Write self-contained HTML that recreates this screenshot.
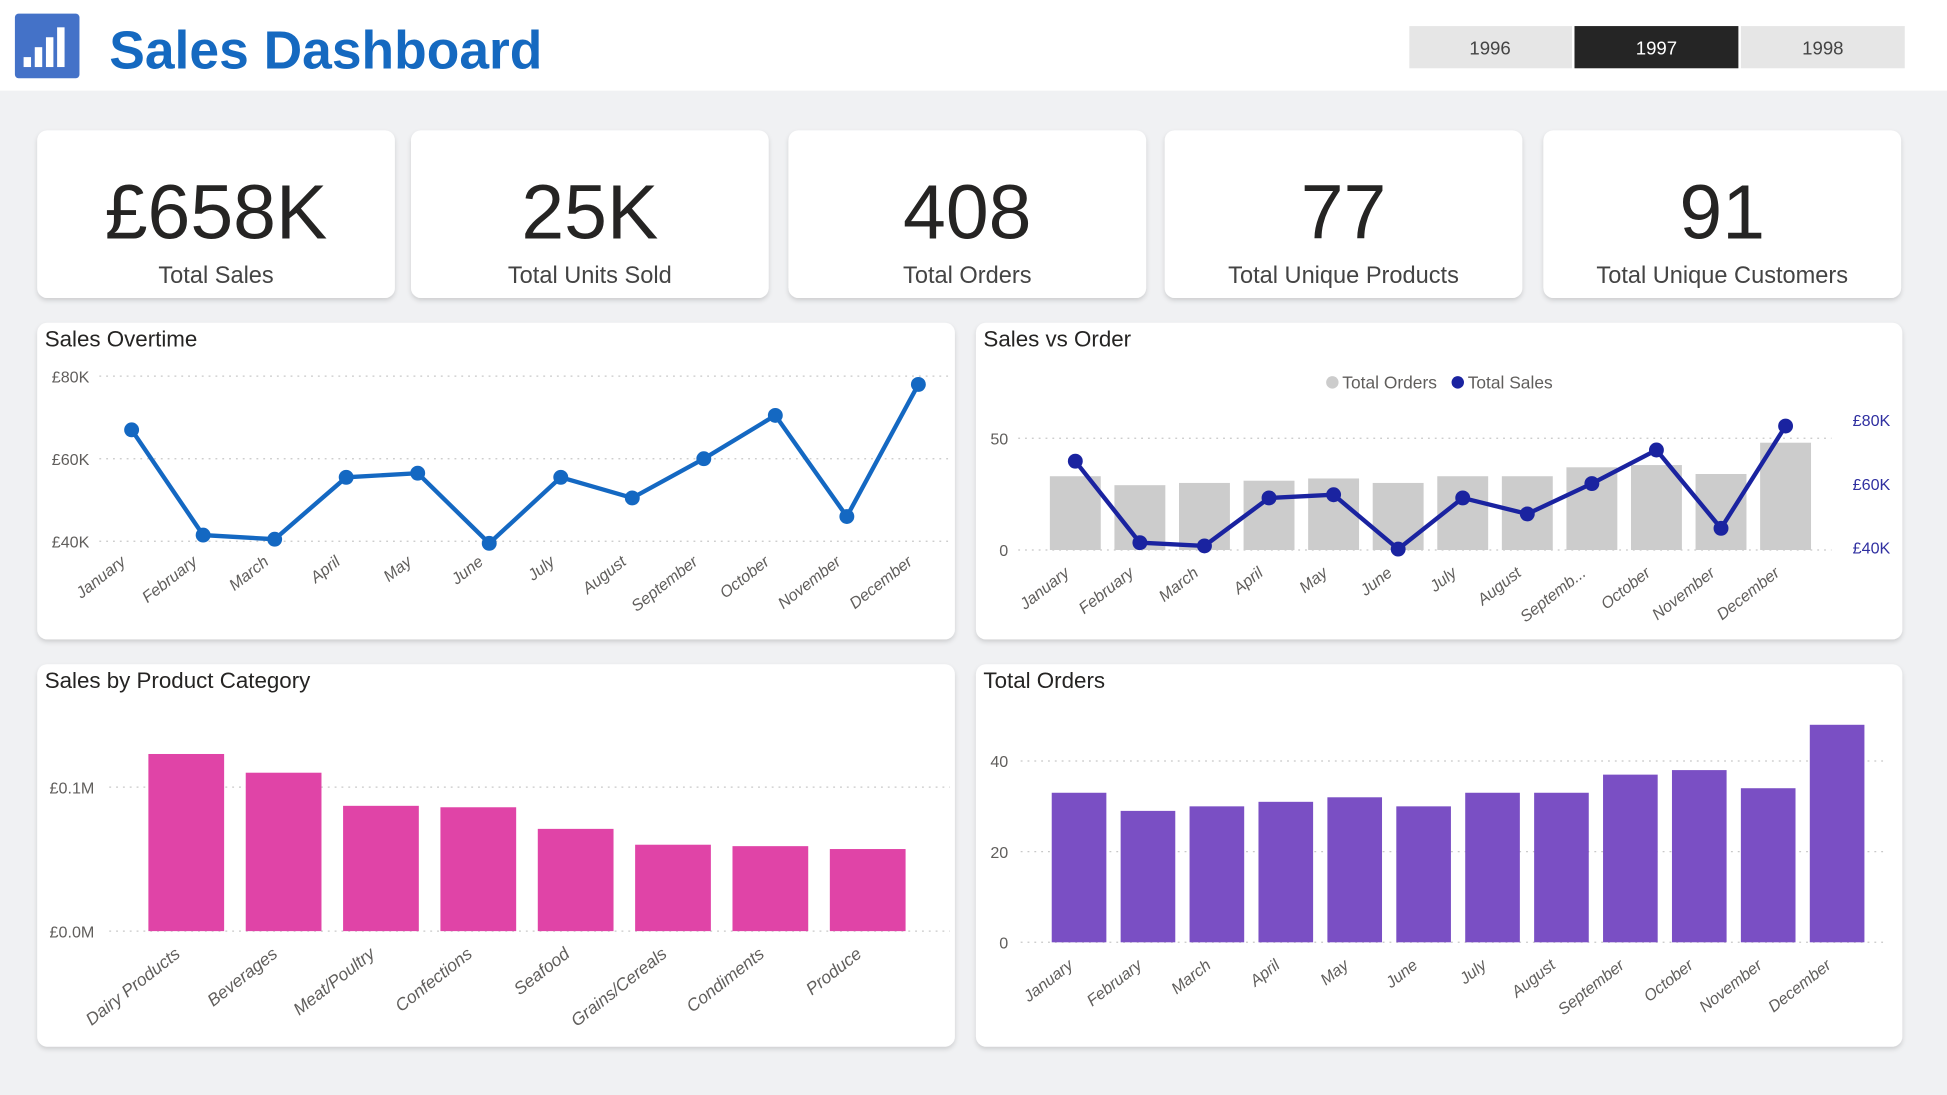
<!DOCTYPE html>
<html><head><meta charset="utf-8"><style>
html,body{margin:0;padding:0;background:#f0f1f3;}
svg{display:block;font-family:"Liberation Sans",sans-serif;}
</style></head><body>
<svg id="root" width="1947" height="1095" viewBox="0 0 1568 882" preserveAspectRatio="none" xmlns="http://www.w3.org/2000/svg">
<defs><filter id="sh" x="-5%" y="-5%" width="110%" height="115%"><feDropShadow dx="0" dy="2" stdDeviation="2" flood-color="#000" flood-opacity="0.15"/></filter></defs>
<rect x="0" y="0" width="1568" height="882" fill="#f0f1f3"/>
<g>
<rect x="0" y="0" width="1568" height="73" fill="#fff"/>
<g>
<rect x="12" y="11" width="52" height="52" rx="3" fill="#4472c8"/>
<rect x="19" y="46" width="6" height="8" fill="#fff"/><rect x="28" y="38" width="6" height="16" fill="#fff"/><rect x="37" y="30" width="6" height="24" fill="#fff"/><rect x="46" y="22" width="6" height="32" fill="#fff"/>
</g>
<text x="88" y="55" font-size="43" font-weight="bold" fill="#1569c0">Sales Dashboard</text>
<g><rect x="1135" y="21" width="131" height="34" fill="#e6e6e6"/><text x="1200" y="44" font-size="15" fill="#444" text-anchor="middle">1996</text></g>
<g><rect x="1268" y="21" width="132" height="34" fill="#252525"/><text x="1334" y="44" font-size="15" fill="#fff" text-anchor="middle">1997</text></g>
<g><rect x="1402" y="21" width="132" height="34" fill="#e6e6e6"/><text x="1468" y="44" font-size="15" fill="#444" text-anchor="middle">1998</text></g>
</g>
<g id="kpis"></g>
<g id="cards"></g>
<g id="charts"></g>
</svg>
<script>
// KPI data
const kpiValues = ["£658K","25K","408","77","91"];
const kpiLabels = ["Total Sales","Total Units Sold","Total Orders","Total Unique Products","Total Unique Customers"];
// Sales Overtime
const months = ["January","February","March","April","May","June","July","August","September","October","November","December"];
const salesK = [67,41.5,40.5,55.5,56.5,39.5,55.5,50.5,60,70.5,46,78];
const salesTicks = [40,60,80];
const salesTickLabels = ["£40K","£60K","£80K"];
// Sales vs Order
const svoMonths = ["January","February","March","April","May","June","July","August","Septemb...","October","November","December"];
const ordersCount = [33,29,30,31,32,30,33,33,37,38,34,48];
const ordersTicksLeft = [0,50];
const salesTicksRight = [40,60,80];
const salesTicksRightLabels = ["£40K","£60K","£80K"];
// Product categories
const categories = ["Dairy Products","Beverages","Meat/Poultry","Confections","Seafood","Grains/Cereals","Condiments","Produce"];
const categorySalesM = [0.123,0.110,0.087,0.086,0.071,0.060,0.059,0.057];
const catTicks = [0,0.1];
const catTickLabels = ["£0.0M","£0.1M"];
// Total orders
const orderTicks = [0,20,40];

const NS="http://www.w3.org/2000/svg";
function el(tag,attrs,parent,text){const e=document.createElementNS(NS,tag);for(const k in attrs)e.setAttribute(k,attrs[k]);if(text!==undefined)e.textContent=text;parent.appendChild(e);return e;}
const kg=document.getElementById('kpis');
const kx=[30,331,635,938,1243];
kpiValues.forEach((v,i)=>{
  const g=el('g',{},kg);
  
  
  el('rect',{x:kx[i],y:105,width:288,height:135,rx:8,fill:'#fff',filter:'url(#sh)'},g);
  const t=el('text',{x:kx[i]+144,y:192,'font-size':62,'text-anchor':'middle',fill:'#252423'},g,v);
  
  
  const l=el('text',{x:kx[i]+144,y:228,'font-size':19,'text-anchor':'middle',fill:'#444'},g,kpiLabels[i]);
  
  
});
const cg=document.getElementById('cards');
const cards=[[30,260,739,255,'Sales Overtime','sales-overtime-card'],[786,260,746,255,'Sales vs Order','sales-vs-order-card'],[30,535,739,308,'Sales by Product Category','sales-by-category-card'],[786,535,746,308,'Total Orders','total-orders-card']];
cards.forEach(c=>{
  const g=el('g',{},cg);
  
  
  el('rect',{x:c[0],y:c[1],width:c[2],height:c[3],rx:8,fill:'#fff',filter:'url(#sh)'},g);
  const t=el('text',{x:c[0]+6,y:c[1]+19,'font-size':18,fill:'#252423'},g,c[4]);
  
  
});
const ch=document.getElementById('charts');
function grid(g,x1,x2,y){el('line',{x1:x1,x2:x2,y1:y,y2:y,stroke:'#c8c8c8','stroke-dasharray':'1.5 4','stroke-width':1},g);}
function rotLabel(g,x,y,txt,size){const t=el('text',{x:x,y:y,'font-size':size||13,fill:'#605e5c','text-anchor':'end','font-style':'italic',transform:`rotate(-38 ${x} ${y})`},g,txt);}

// Chart 1: Sales Overtime
(function(){
  const g=el('g',{},ch);
  
  
  const xS=i=>106+i*57.6, yS=v=>436-(v-40)*(133/40);
  salesTicks.forEach((t,i)=>{grid(g,80,765,yS(t));const l=el('text',{x:72,y:yS(t)+5,'font-size':13,fill:'#605e5c','text-anchor':'end'},g,salesTickLabels[i]);});
  const pts=salesK.map((v,i)=>xS(i)+','+yS(v)).join(' ');
  const pl=el('polyline',{points:pts,fill:'none',stroke:'#1468c2','stroke-width':3.5},g);
  
  
  salesK.forEach((v,i)=>{const c=el('circle',{cx:xS(i),cy:yS(v),r:6,fill:'#1468c2'},g);});
  months.forEach((m,i)=>rotLabel(g,xS(i)-4,yS(40)+18,m));
})();

// Chart 2: Sales vs Order
(function(){
  const g=el('g',{},ch);
  
  
  const xS=i=>866+i*52, yL=v=>443-v*1.8, yR=v=>441-(v-40)*(103/40);
  ordersTicksLeft.forEach(t=>{grid(g,820,1475,yL(t));const l=el('text',{x:812,y:yL(t)+5,'font-size':13,fill:'#605e5c','text-anchor':'end'},g,String(t));});
  salesTicksRight.forEach((t,i)=>{const l=el('text',{x:1492,y:yR(t)+5,'font-size':13,fill:'#2f2fa0'},g,salesTicksRightLabels[i]);});
  ordersCount.forEach((v,i)=>{const r=el('rect',{x:xS(i)-20.5,y:yL(v),width:41,height:yL(0)-yL(v),fill:'#cccccc'},g);});
  const pts=salesK.map((v,i)=>xS(i)+','+yR(v)).join(' ');
  const pl=el('polyline',{points:pts,fill:'none',stroke:'#1a23a0','stroke-width':3.5},g);
  
  
  salesK.forEach((v,i)=>{const c=el('circle',{cx:xS(i),cy:yR(v),r:6,fill:'#1a23a0'},g);});
  svoMonths.forEach((m,i)=>rotLabel(g,xS(i)-4,yL(0)+20,m));
  const lg=el('g',{},g);
  
  
  el('circle',{cx:1073,cy:308,r:5,fill:'#cccccc'},lg);
  el('text',{x:1081,y:313,'font-size':14,fill:'#605e5c'},lg,'Total Orders');
  el('circle',{cx:1174,cy:308,r:5,fill:'#1a23a0'},lg);
  el('text',{x:1182,y:313,'font-size':14,fill:'#605e5c'},lg,'Total Sales');
})();

// Chart 3: Sales by Product Category
(function(){
  const g=el('g',{},ch);
  
  
  const xS=i=>150+i*78.4, yS=v=>750-v*1160;
  catTicks.forEach((t,i)=>{grid(g,88,765,yS(t));const l=el('text',{x:76,y:yS(t)+5,'font-size':13,fill:'#605e5c','text-anchor':'end'},g,catTickLabels[i]);});
  categorySalesM.forEach((v,i)=>{const r=el('rect',{x:xS(i)-30.5,y:yS(v),width:61,height:yS(0)-yS(v),fill:'#e044a7'},g);});
  categories.forEach((c,i)=>rotLabel(g,xS(i)-4,yS(0)+20,c,14));
})();

// Chart 4: Total Orders
(function(){
  const g=el('g',{},ch);
  
  
  const xS=i=>869+i*55.5, yS=v=>759-v*3.65;
  orderTicks.forEach(t=>{grid(g,822,1520,yS(t));const l=el('text',{x:812,y:yS(t)+5,'font-size':13,fill:'#605e5c','text-anchor':'end'},g,String(t));});
  ordersCount.forEach((v,i)=>{const r=el('rect',{x:xS(i)-22,y:yS(v),width:44,height:yS(0)-yS(v),fill:'#7a4fc4'},g);});
  months.forEach((m,i)=>rotLabel(g,xS(i)-4,yS(0)+20,m));
})();
</script>
</body></html>
